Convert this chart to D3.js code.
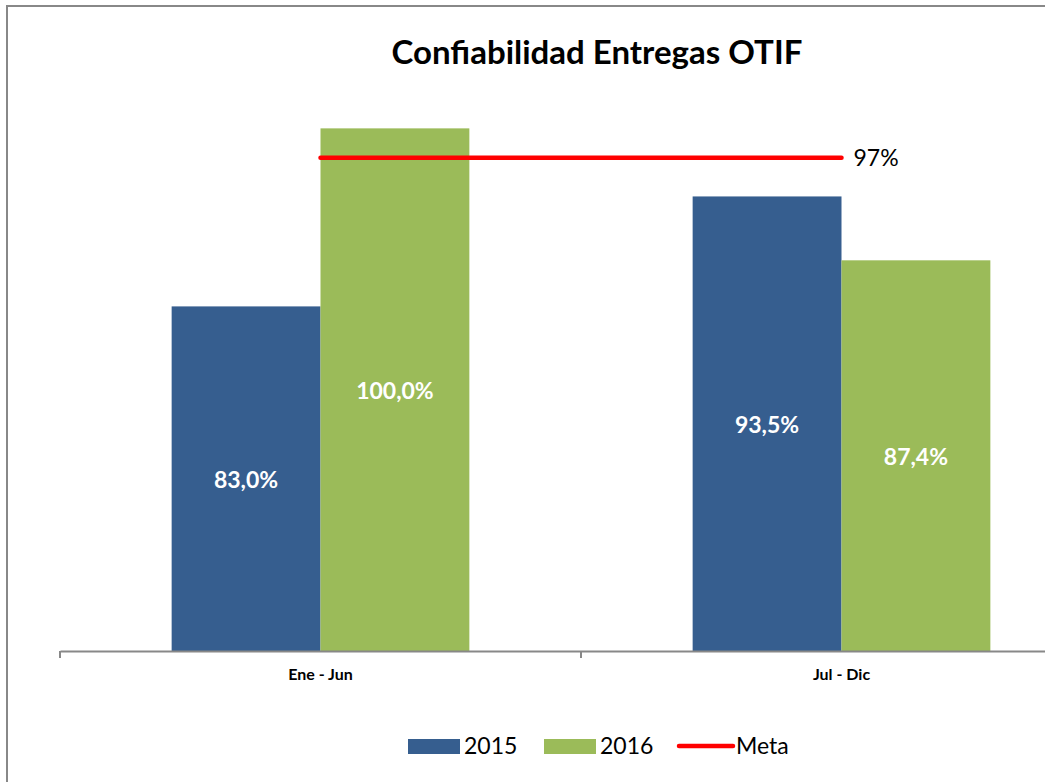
<!DOCTYPE html>
<html>
<head>
<meta charset="utf-8">
<script src="https://cdnjs.cloudflare.com/ajax/libs/d3/7.8.5/d3.min.js"></script>
<style>
  body { margin: 0; background: #fff; }
  svg { display: block; font-family: Lato, "Open Sans", sans-serif; }
</style>
</head>
<body>
<svg id="chart" width="1045" height="782"></svg>
<script>
var periods = ['Ene - Jun', 'Jul - Dic'];
var years = ['2015', '2016'];
var values2015 = [83.0, 93.5];
var values2016 = [100.0, 87.4];
var meta = 97;
var yearColors = ['#365E8F', '#9BBB59'];
var metaColor = '#FF0000';

var svg = d3.select('#chart');

// frame
svg.append('rect')
    .attr('x', 7).attr('y', 6)
    .attr('width', 1100).attr('height', 900)
    .attr('fill', 'none')
    .attr('stroke', '#888')
    .attr('stroke-width', 2);

svg.append('text')
    .attr('x', 597).attr('y', 64)
    .attr('text-anchor', 'middle')
    .attr('font-size', 33)
    .attr('font-weight', 'bold')
    .text('Confiabilidad Entregas OTIF');

var x = d3.scaleBand().domain(periods).range([60, 1102]);
var xs = d3.scaleBand().domain(years).range([0, x.bandwidth()]).paddingInner(0).paddingOuter(0.75);
var y = d3.scaleLinear().domain([50, 105]).range([652, 76]);

var rows = periods.map(function (p, i) {
    return {period: p, vals: [values2015[i], values2016[i]]};
});

var g = svg.append('g');
var groups = g.selectAll('g.period').data(rows).enter().append('g')
    .attr('transform', d => 'translate(' + x(d.period) + ',0)');

var bars = groups.selectAll('g.bar')
    .data(d => d.vals.map((v, j) => ({year: years[j], v: v, j: j})))
    .enter().append('g');

bars.append('rect')
    .attr('x', d => xs(d.year))
    .attr('width', xs.bandwidth())
    .attr('y', d => y(d.v))
    .attr('height', d => y.range()[0] - y(d.v))
    .attr('fill', d => yearColors[d.j]);

bars.append('text')
    .attr('x', d => xs(d.year) + xs.bandwidth() / 2)
    .attr('y', d => (y(d.v) + y.range()[0]) / 2 + 9)
    .attr('text-anchor', 'middle')
    .attr('fill', '#fff')
    .attr('font-size', 23)
    .attr('font-weight', 'bold')
    .text(d => d.v.toFixed(1).replace('.', ',') + '%');

// x axis
var axis = svg.append('g')
    .attr('transform', 'translate(0,651)')
    .call(d3.axisBottom(x).tickSize(0).tickPadding(18));
axis.select('.domain').attr('stroke', '#888').attr('stroke-width', 2);
axis.selectAll('text')
    .attr('font-size', 16)
    .attr('font-weight', 'bold')
    .attr('fill', '#000')
    .attr('font-family', 'Lato, sans-serif');
axis.selectAll('line.sep')
    .data(x.domain().concat(['end']))
    .enter().append('line')
    .attr('class', 'sep')
    .attr('x1', (d, i) => 60 + i * x.bandwidth())
    .attr('x2', (d, i) => 60 + i * x.bandwidth())
    .attr('y1', 0).attr('y2', 7)
    .attr('stroke', '#888').attr('stroke-width', 2);

// meta line
var metaX1 = x(periods[0]) + x.bandwidth() / 2;
var metaX2 = x(periods[1]) + x.bandwidth() / 2;
svg.append('line')
    .attr('x1', metaX1).attr('x2', metaX2)
    .attr('y1', y(meta) - 2).attr('y2', y(meta) - 2)
    .attr('stroke', metaColor)
    .attr('stroke-width', 4.5)
    .attr('stroke-linecap', 'round');
svg.append('text')
    .attr('x', metaX2 + 12).attr('y', y(meta) + 6)
    .attr('font-size', 23)
    .attr('fill', '#000')
    .text(meta + '%');

// legend
var legend = svg.append('g').attr('transform', 'translate(0,746)');
var items = [
    {label: years[0], color: yearColors[0], type: 'rect', x: 408},
    {label: years[1], color: yearColors[1], type: 'rect', x: 544},
    {label: 'Meta', color: metaColor, type: 'line', x: 678}
];
items.forEach(function (it) {
    if (it.type === 'rect') {
        legend.append('rect')
            .attr('x', it.x).attr('y', -7)
            .attr('width', 52).attr('height', 15)
            .attr('fill', it.color);
    } else {
        legend.append('line')
            .attr('x1', it.x + 1).attr('x2', it.x + 55)
            .attr('y1', 0).attr('y2', 0)
            .attr('stroke', it.color)
            .attr('stroke-width', 4.5)
            .attr('stroke-linecap', 'round');
    }
    legend.append('text')
        .attr('x', it.x + (it.type === 'rect' ? 56 : 58))
        .attr('y', 8)
        .attr('font-size', 23)
        .attr('fill', '#000')
        .text(it.label);
});
</script>
</body>
</html>
